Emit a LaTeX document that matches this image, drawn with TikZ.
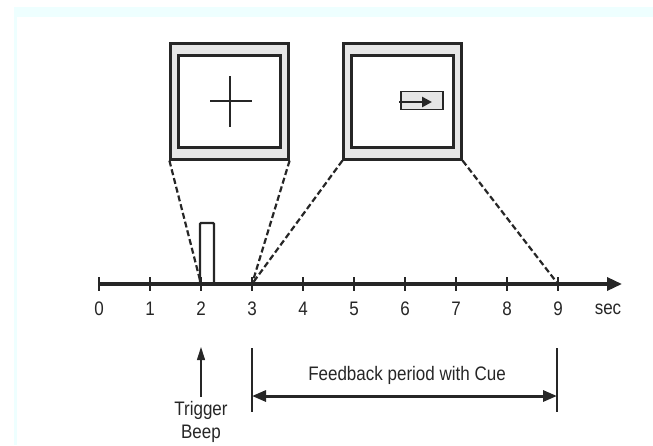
\documentclass[tikz,border=0pt]{standalone}
\usepackage{fontspec}
\setmainfont{Liberation Sans}
\usetikzlibrary{arrows.meta,positioning}
\definecolor{framecyan}{HTML}{EEFFFF}
\definecolor{screengray}{HTML}{E6E6E6}
\definecolor{inkgray}{HTML}{262626}
\newcommand{\tall}[1]{\scalebox{1}[1.15]{#1}}
\tikzset{
    screen/.style={draw=inkgray, line width=2.2pt, fill=screengray, minimum width=118pt, minimum height=116pt, inner sep=0pt},
    inner screen/.style={draw=inkgray, line width=2.2pt, fill=white, minimum width=102pt, minimum height=92pt, inner sep=0pt},
    zoomline/.style={draw=inkgray, line width=2.2pt, dash pattern=on 6pt off 3pt},
    label text/.style={text=inkgray, font=\fontsize{17}{19}\selectfont, inner sep=0pt}
}
\begin{document}
\begin{tikzpicture}[x=1pt, y=-1pt]
    \useasboundingbox (0,0) rectangle (653,445);

    % Rahmen
    \fill[framecyan] (14,7) rectangle (653,17);
    \fill[framecyan] (14,17) rectangle (17,445);

    % Zeitachse
    \coordinate (axisstart) at (99,284);
    \coordinate (axisend) at (622,284);
    \draw[inkgray, line width=3.4pt, -{Triangle[length=15pt, width=13pt]}] (axisstart) -- (axisend);
    \foreach \i in {0,...,9} {
        \coordinate (t\i) at (99+51*\i,284);
        \draw[inkgray, line width=2.2pt] (t\i) ++(0,-7) -- ++(0,14);
        \node[label text] (n\i) at (99+51*\i,309) {\tall{\i}};
    }
    \node[label text] (sec) at (608,309) {\tall{sec}};

    % Trigger-Impuls
    \draw[inkgray, line width=2.2pt, rounded corners=1pt] (200,284) -- (200,223) -- (214,223) -- (214,284);

    % Bildschirm 1 (Fixationskreuz)
    \node[screen] (screen1) at (229.5,101.5) {};
    \node[inner screen] (inner1) at (screen1.center) {};
    \draw[inkgray, line width=2.4pt] (210,101) -- (252,101);
    \draw[inkgray, line width=2.4pt] (230,76) -- (230,127);

    % Bildschirm 2 (Hinweis)
    \node[screen] (screen2) at (402.5,101.5) {};
    \node[inner screen] (inner2) at (screen2.center) {};
    \node[draw=inkgray, line width=1.5pt, fill=screengray, minimum width=42pt, minimum height=18pt, inner sep=0pt] (cue) at (422,100.5) {};
    \draw[inkgray, line width=2.8pt, -{Triangle[length=10pt, width=10pt]}] (399,102) -- (432,102);

    % Zoomlinien
    \draw[zoomline] (screen1.south west) -- (t2);
    \draw[zoomline] (screen1.south east) -- (t3);
    \draw[zoomline] (screen2.south west) -- (t3);
    \draw[zoomline] (screen2.south east) -- (t9);

    % Trigger Beep
    \coordinate (beeptip) at (201,347);
    \node[label text, align=center, font=\fontsize{17}{23}\selectfont] (beep) at (201,422) {\tall{Trigger}\\\tall{Beep}};
    \draw[inkgray, line width=1.1pt, -{Triangle[length=13pt, width=8pt]}] (201,397) -- (beeptip);

    % Feedback-Periode
    \coordinate (fbstart) at (252,396);
    \coordinate (fbend) at (557,396);
    \draw[inkgray, line width=1.6pt] (252,348) -- (252,412);
    \draw[inkgray, line width=1.6pt] (557,348) -- (557,412);
    \draw[inkgray, line width=3pt, {Triangle[length=14pt, width=11pt]}-{Triangle[length=14pt, width=11pt]}] (fbstart) -- (fbend);
    \node[label text] (feedback) at (407,375) {\tall{Feedback period with Cue}};
\end{tikzpicture}
\end{document}
